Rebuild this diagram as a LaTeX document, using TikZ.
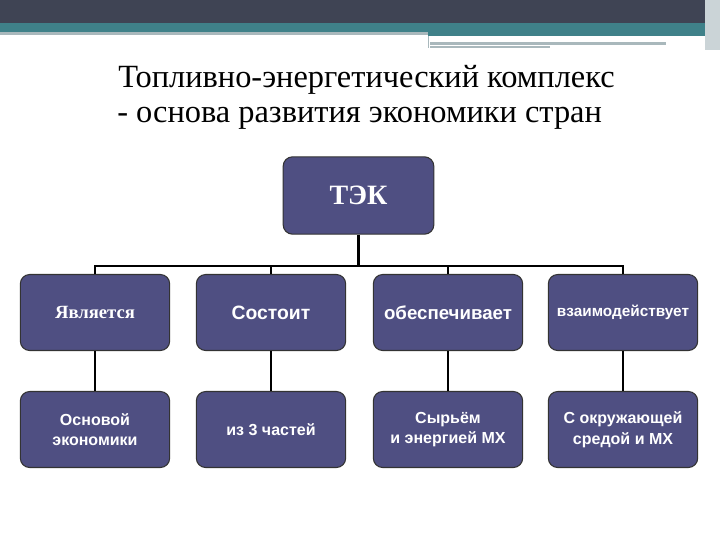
\documentclass[tikz,border=0pt]{standalone}
\usepackage{fontspec}
\setmainfont{Liberation Serif}
\newfontfamily\arialf{Liberation Sans}
\begin{document}
\begin{tikzpicture}[x=0.75pt,y=-0.75pt,
  box/.style={draw=black!80,line width=0.8pt,fill=boxc,rounded corners=7pt,minimum width=112pt,minimum height=57pt,text=white,align=center,inner sep=1pt},
  conn/.style={line width=1.6pt,black}]
\definecolor{boxc}{HTML}{4F4F82}
\definecolor{darkband}{HTML}{3F4454}
\definecolor{teal}{HTML}{3F8189}
\definecolor{lgray}{HTML}{A9B8BC}
\useasboundingbox (0,0) rectangle (720,540);
\fill[white] (0,0) rectangle (720,540);
\fill[darkband] (0,0) rectangle (720,23);
\fill[teal] (0,23) rectangle (705,32);
\fill[lgray] (0,32) rectangle (428,35);
\fill[teal] (428,32) rectangle (705,36);
\fill[lgray] (428,36) rectangle (428.5,48);
\fill[lgray] (430,42) rectangle (666,45);
\fill[lgray] (430,46) rectangle (550,48);
\fill[lgray!60] (705,0) rectangle (720,50);
\node[anchor=west,font=\fontsize{24.3}{28}\selectfont,inner sep=0pt] (t1) at (118,80) {Топливно-энергетический комплекс};
\node[anchor=west,font=\fontsize{24.3}{28}\selectfont,inner sep=0pt] (t2) at (117,118) {- основа развития экономики стран};
\node[box,minimum width=113pt,minimum height=58pt,font=\fontsize{21}{24}\selectfont\bfseries] (tek) at (358.5,195.5) {ТЭК};
\node[box,font=\fontsize{14}{16}\selectfont\bfseries] (a1) at (95,312.5) {Является};
\node[box,font=\arialf\fontsize{14.5}{17}\selectfont\bfseries] (a2) at (271,312.5) {Состоит};
\node[box,font=\arialf\fontsize{14}{17}\selectfont\bfseries] (a3) at (448,312.5) {обеспечивает};
\node[box,font=\arialf\fontsize{11.5}{14}\selectfont\bfseries] (a4) at (623,312.5) {взаимодействует};
\node[box,font=\arialf\fontsize{12}{15.5}\selectfont\bfseries] (b1) at (95,429.5) {Основой\\экономики};
\node[box,font=\arialf\fontsize{12}{15.5}\selectfont\bfseries] (b2) at (271,429.5) {из 3 частей};
\node[box,font=\arialf\fontsize{12}{15.5}\selectfont\bfseries] (b3) at (448,429.5) {Сырьём\\и энергией МХ};
\node[box,font=\arialf\fontsize{12}{15.5}\selectfont\bfseries] (b4) at (623,429.5) {С окружающей\\средой и МХ};
\coordinate (bar) at (358.5,266);
\draw[conn] (tek.south) -- (bar);
\draw[conn] (a1.north) |- (bar) -| (a4.north);
\draw[conn] (a2.north) -- (a2.north |- bar);
\draw[conn] (a3.north) -- (a3.north |- bar);
\foreach \i in {1,2,3,4} \draw[conn] (a\i.south) -- (b\i.north);
\end{tikzpicture}
\end{document}
